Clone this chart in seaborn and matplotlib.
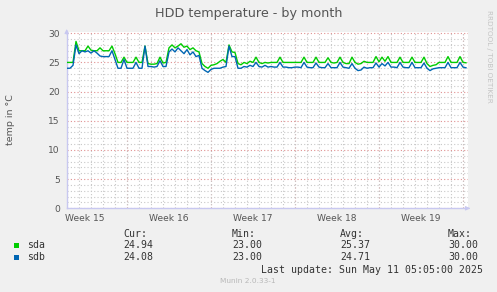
import numpy as np
import pandas as pd
import matplotlib
matplotlib.use("Agg")
import matplotlib.pyplot as plt
from matplotlib.patches import Rectangle
import seaborn as sns

# ---- data (6-hourly samples) ----
start = "2025-04-09 00:00"
sda = [25.0, 25.0, 25.0, 28.6, 27.0, 27.0, 27.0, 27.8, 27.1, 27.0,
       27.0, 27.5, 27.0, 27.0, 27.0, 27.8, 26.5, 25.0, 25.0, 25.9,
       25.0, 25.0, 25.0, 25.9, 25.0, 25.0, 27.8, 24.8, 24.7, 24.7,
       24.8, 25.9, 24.9, 25.0, 27.5, 28.0, 27.5, 27.8, 28.2, 27.6,
       27.8, 27.2, 27.5, 27.0, 26.8, 24.8, 24.3, 24.0, 24.5, 24.6,
       24.8, 25.2, 25.5, 25.0, 28.0, 26.8, 26.7, 24.8, 24.6, 25.0,
       24.8, 25.2, 25.0, 25.9, 25.0, 24.8, 25.0, 24.9, 25.0, 25.0,
       25.0, 25.9, 25.0, 25.0, 25.0, 25.0, 25.0, 25.0, 25.0, 25.9,
       25.0, 25.0, 25.0, 25.9, 25.0, 25.0, 25.0, 25.8, 25.0, 24.9,
       25.0, 25.9, 25.0, 24.8, 24.8, 25.9, 25.0, 24.7, 24.8, 25.2,
       25.0, 25.0, 25.0, 26.0, 25.1, 25.9, 25.2, 26.0, 25.0, 25.0,
       25.0, 25.9, 25.0, 25.0, 25.0, 25.9, 25.0, 25.0, 25.0, 25.9,
       24.8, 24.3, 24.5, 24.6, 25.0, 25.0, 25.0, 26.0, 25.0, 25.0,
       25.0, 26.0, 25.0, 24.94]
sdb = [24.0, 24.0, 24.5, 28.0, 26.5, 27.0, 26.8, 27.0, 26.6, 27.0,
       26.6, 26.1, 26.0, 26.0, 26.0, 27.0, 25.5, 24.0, 24.0, 25.5,
       24.0, 24.0, 24.0, 25.0, 24.0, 24.0, 27.8, 24.3, 24.3, 24.2,
       24.3, 25.3, 24.3, 24.3, 26.8, 27.3, 26.8, 27.5, 27.0, 26.5,
       27.2, 26.3, 26.8, 26.0, 26.2, 24.0, 23.6, 23.3, 23.8, 24.0,
       24.0, 24.0, 24.2, 24.3, 27.8, 26.0, 26.0, 24.0, 24.0, 24.3,
       24.2, 24.5, 24.3, 25.0, 24.3, 24.2, 24.5, 24.2, 24.3, 24.2,
       24.2, 25.0, 24.2, 24.2, 24.1, 24.1, 24.2, 24.2, 24.1, 25.0,
       24.2, 24.1, 24.1, 24.9, 24.2, 24.1, 24.1, 24.8, 24.1, 24.1,
       24.1, 25.0, 24.2, 24.1, 24.0, 24.8, 24.0, 23.6, 23.7, 24.2,
       24.0, 24.1, 24.1, 24.9, 24.2, 24.8, 24.4, 25.0, 24.2, 24.2,
       24.1, 25.0, 24.2, 24.1, 24.1, 25.0, 24.1, 24.1, 24.1, 24.9,
       24.0, 23.6, 23.9, 24.0, 24.1, 24.1, 24.1, 25.0, 24.1, 24.1,
       24.1, 25.0, 24.2, 24.08]
series_names = ["sda", "sdb"]
series_colors = ["#00CC00", "#0066B3"]
week_labels = ["Week 15", "Week 16", "Week 17", "Week 18", "Week 19"]
week_label_pos = ["2025-04-10 12:00", "2025-04-17 12:00", "2025-04-24 12:00",
                  "2025-05-01 12:00", "2025-05-08 12:00"]
week_starts = ["2025-04-14", "2025-04-21", "2025-04-28", "2025-05-05", "2025-05-12"]
cur = ["24.94", "24.08"]
mins = ["23.00", "23.00"]
avgs = ["25.37", "24.71"]
maxs = ["30.00", "30.00"]
yticks = [0, 5, 10, 15, 20, 25, 30]

times = pd.date_range(start, periods=len(sda), freq="6h")
df = pd.concat([
    pd.DataFrame({"time": times, "temp": sda, "disk": "sda"}),
    pd.DataFrame({"time": times, "temp": sdb, "disk": "sdb"}),
])

BG = "#F0F0F0"
W, H = 497, 292
fig = plt.figure(figsize=(W / 100, H / 100), dpi=100, facecolor=BG)
ax = fig.add_axes([66.7 / W, 1 - 208.3 / H, (468 - 66.7) / W, (208.3 - 31.5) / H])
ax.set_facecolor("white")

sns.lineplot(data=df, x="time", y="temp", hue="disk",
             palette=dict(zip(series_names, series_colors)),
             linewidth=1.0, legend=False, ax=ax, zorder=5)

x0 = pd.Timestamp("2025-04-14") - pd.Timedelta(hours=24 * (127 - 66.7) / 12)
x1 = pd.Timestamp("2025-04-14") + pd.Timedelta(hours=24 * (468 - 127) / 12)
ax.set_xlim(x0, x1)
ax.set_ylim(0, 30.3)

# grid
days = pd.date_range("2025-04-09", "2025-05-12", freq="D")
ax.set_xticks(days, minor=True)
ax.set_yticks(np.arange(0, 31, 1), minor=True)
ax.grid(which="minor", color="#c8c8c8", linestyle=(0, (1, 2)), linewidth=0.8)
ax.set_xticks(pd.to_datetime(week_label_pos))
ax.set_xticklabels(week_labels)
ax.set_yticks(yticks)
ax.set_yticklabels([str(v) for v in yticks])
ax.grid(which="major", axis="y", color="#e09090", linestyle=(0, (1, 2)), linewidth=0.8)
ax.grid(which="major", axis="x", visible=False)
for ws in pd.to_datetime(week_starts):
    ax.axvline(ws, color="#e09090", linestyle=(0, (1, 2)), linewidth=0.8, zorder=1)
ax.tick_params(which="both", length=0, labelsize=6.6, colors="#555555", pad=4)
ax.tick_params(axis="y", pad=5)
ax.set_xlabel("")
ax.set_ylabel("")
for s in ["top", "right"]:
    ax.spines[s].set_visible(False)
for s in ["left", "bottom"]:
    ax.spines[s].set_color("#c8c8f0")
    ax.spines[s].set_linewidth(1.0)
# axis arrows
ax.annotate("", xy=(0, 1.03), xytext=(0, 0.97), xycoords="axes fraction",
            arrowprops=dict(arrowstyle="-|>", color="#c8c8f0", lw=0.8,
                            mutation_scale=6), annotation_clip=False)
ax.annotate("", xy=(1.012, 0), xytext=(0.995, 0), xycoords="axes fraction",
            arrowprops=dict(arrowstyle="-|>", color="#c8c8f0", lw=0.8,
                            mutation_scale=6), annotation_clip=False)

# titles / labels
fig.text(0.5, 1 - 14 / H, "HDD temperature - by month", ha="center", va="center",
         fontsize=9.2, color="#555555")
fig.text(11 / W, 1 - 120 / H, "temp in °C", rotation=90, ha="center", va="center",
         fontsize=6.8, color="#555555")
fig.text(489 / W, 1 - 56 / H, "RRDTOOL / TOBI OETIKER", rotation=270, ha="center",
         va="center", fontsize=5.2, color="#c4c4c4")

# legend block
mono = "DejaVu Sans Mono"
tc = "#333333"
fs = 7.1
cols_x = [123, 232, 340, 448]
for x, t in zip(cols_x, ["Cur:", "Min:", "Avg:", "Max:"]):
    fig.text(x / W, 1 - 234 / H, t, family=mono, fontsize=fs, color=tc, va="center")
rows_y = [245, 257]
for name, col, y, c, mn, av, mx in zip(series_names, series_colors, rows_y,
                                        cur, mins, avgs, maxs):
    fig.patches.append(Rectangle((14 / W, 1 - (y + 3) / H), 5 / W, 5 / H,
                                 transform=fig.transFigure, facecolor=col,
                                 edgecolor="none"))
    fig.text(27 / W, 1 - y / H, name, family=mono, fontsize=fs, color=tc, va="center")
    for x, v in zip(cols_x, [c, mn, av, mx]):
        fig.text(x / W, 1 - y / H, v, family=mono, fontsize=fs, color=tc, va="center")
fig.text(483 / W, 1 - 270 / H, "Last update: Sun May 11 05:05:00 2025", family=mono,
         fontsize=fs, color=tc, va="center", ha="right")
fig.text(248 / W, 1 - 281 / H, "Munin 2.0.33-1", fontsize=5.3, color="#b8b8b8",
         va="center", ha="center")

fig.savefig("out.png", dpi=100, facecolor=BG)
